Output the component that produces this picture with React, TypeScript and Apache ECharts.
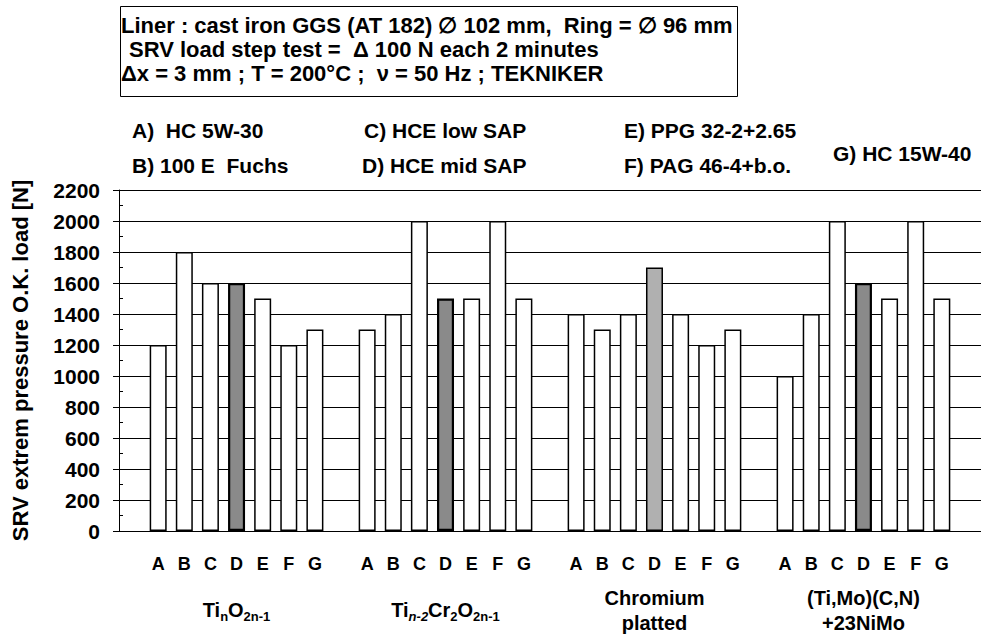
import React, { useEffect, useRef } from 'react';
import * as echarts from 'echarts';

const FONT = '"Liberation Sans", Arial, sans-serif';

const oils = ['A', 'B', 'C', 'D', 'E', 'F', 'G'];
const oilNames = [
  'A)  HC 5W-30',
  'B) 100 E  Fuchs',
  'C) HCE low SAP',
  'D) HCE mid SAP',
  'E) PPG 32-2+2.65',
  'F) PAG 46-4+b.o.',
  'G) HC 15W-40',
];
const coatingLabels = [
  '{b|Ti}{s|n}{b|O}{s|2n-1}',
  '{b|Ti}{si|n-2}{b|Cr}{s|2}{b|O}{s|2n-1}',
  '{b|Chromium}\n{b|platted}',
  '{b|(Ti,Mo)(C,N)}\n{b|+23NiMo}',
];
const tinO2n1 = [1200, 1800, 1600, 1600, 1500, 1200, 1300];
const tin2Cr2O2n1 = [1300, 1400, 2000, 1500, 1500, 2000, 1500];
const chromiumPlatted = [1400, 1300, 1400, 1700, 1400, 1200, 1300];
const tiMoCN = [1000, 1400, 2000, 1600, 1500, 2000, 1500];
const titleLines = [
  'Liner : cast iron GGS (AT 182) \u2205 102 mm,  Ring = \u2205 96 mm',
  'SRV load step test =  \u0394 100 N each 2 minutes',
  '\u0394x = 3 mm ; T = 200\u00b0C ;  \u03bd = 50 Hz ; TEKNIKER',
];
const yName = 'SRV extrem pressure O.K. load [N]';
const yMin = 0;
const yMax = 2200;
const yStep = 200;
const yMinorStep = 100;

export default function App() {
  const ref = useRef<HTMLDivElement>(null);
  useEffect(() => {
    if (!ref.current) return;
    const chart = echarts.init(ref.current, undefined, { renderer: 'svg' });
    const groups = [tinO2n1, tin2Cr2O2n1, chromiumPlatted, tiMoCN];
    const cats: string[] = [];
    const vals: any[] = [];
    const labelAt: Record<number, string> = {};
    groups.forEach((g, gi) => {
      cats.push('');
      vals.push(null);
      g.forEach((v, i) => {
        const idx = cats.length;
        cats.push(oils[i]);
        if (i === 3) {
          labelAt[idx] = coatingLabels[gi];
          vals.push({
            value: v,
            itemStyle: {
              color: gi === 2 ? '#b0b0b0' : '#8a8a8a',
              borderColor: '#000',
              borderWidth: gi === 2 ? 1.5 : 2.2,
            },
          });
        } else {
          vals.push(v);
        }
      });
    });
    cats.push('');
    vals.push(null);

    const legendPos = [
      [132, 130],
      [132, 165],
      [364, 130],
      [362, 165],
      [624, 130],
      [624, 165],
      [833, 153],
    ];
    const titlePos = [
      [121, 25],
      [129, 49],
      [121, 73],
    ];

    const graphic: any[] = [
      {
        type: 'rect',
        shape: { x: 120.5, y: 6.5, width: 617, height: 90 },
        style: { fill: '#fff', stroke: '#000', lineWidth: 1 },
        z: 10,
      },
      ...titleLines.map((t, i) => ({
        type: 'text',
        x: titlePos[i][0],
        y: titlePos[i][1],
        z: 11,
        style: {
          text: t,
          fill: '#000',
          font: `bold 22px ${FONT}`,
          verticalAlign: 'middle',
        },
      })),
      ...oilNames.map((t, i) => ({
        type: 'text',
        x: legendPos[i][0],
        y: legendPos[i][1],
        z: 11,
        style: {
          text: t,
          fill: '#000',
          font: `bold 21px ${FONT}`,
          verticalAlign: 'middle',
        },
      })),
    ];

    chart.setOption({
      animation: false,
      backgroundColor: '#fff',
      grid: { left: 119, right: 0, top: 190, bottom: 113, containLabel: false },
      graphic,
      xAxis: [
        {
          type: 'category',
          data: cats,
          axisLine: { show: true, lineStyle: { color: '#000', width: 1 } },
          axisTick: { show: false },
          axisLabel: {
            interval: 0,
            color: '#000',
            fontSize: 18,
            fontWeight: 'bold',
            fontFamily: FONT,
            margin: 24,
          },
          splitLine: { show: false },
        },
        {
          type: 'category',
          data: cats,
          position: 'bottom',
          axisLine: { show: false },
          axisTick: { show: false },
          splitLine: { show: false },
          axisLabel: {
            interval: 0,
            margin: 79,
            verticalAlign: 'middle',
            formatter: (_v: string, i: number) => labelAt[i] || '',
            rich: {
              b: { fontSize: 20, fontWeight: 'bold', fontFamily: FONT, color: '#000', lineHeight: 25 },
              s: { fontSize: 13, fontWeight: 'bold', fontFamily: FONT, color: '#000', lineHeight: 12, verticalAlign: 'bottom' },
              si: { fontSize: 13, fontWeight: 'bold', fontStyle: 'italic', fontFamily: FONT, color: '#000', lineHeight: 12, verticalAlign: 'bottom' },
            },
          },
        },
      ],
      yAxis: [
        {
          type: 'value',
          min: yMin,
          max: yMax,
          interval: yStep,
          name: yName,
          nameLocation: 'middle',
          nameGap: 88,
          nameTextStyle: { fontSize: 22, fontWeight: 'bold', color: '#000', fontFamily: FONT },
          axisLine: { show: true, lineStyle: { color: '#000', width: 1 } },
          axisTick: { show: true, length: 6, lineStyle: { color: '#000' } },
          axisLabel: {
            color: '#000',
            fontSize: 21,
            fontWeight: 'bold',
            fontFamily: FONT,
            margin: 19,
            formatter: (v: number) => String(v),
          },
          splitLine: { show: true, lineStyle: { color: '#000', width: 1 } },
        },
        {
          type: 'value',
          min: yMin,
          max: yMax,
          interval: yMinorStep,
          axisLine: { show: false },
          axisTick: { show: true, inside: true, length: 4, lineStyle: { color: '#000' } },
          axisLabel: { show: false },
          splitLine: { show: false },
          position: 'left',
        },
      ],
      series: [
        {
          type: 'bar',
          xAxisIndex: 0,
          yAxisIndex: 0,
          data: vals,
          barWidth: 17,
          itemStyle: { color: '#fff', borderColor: '#000', borderWidth: 1.5 },
        },
      ],
    });
    return () => chart.dispose();
  }, []);
  return (
    <div
      ref={ref}
      style={{ position: 'absolute', left: 0, top: 0, width: 981, height: 644, background: '#fff' }}
    />
  );
}
